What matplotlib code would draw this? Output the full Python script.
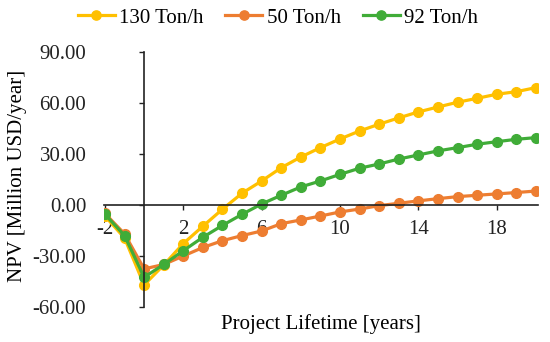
import matplotlib
matplotlib.use("Agg")
import matplotlib.pyplot as plt

years = list(range(-2, 21))

npv_130 = [-6.5, -19.4, -47.0, -35.3, -22.7, -12.5, -2.5, 6.9, 14.1, 21.9, 28.2, 33.7,
           38.8, 43.5, 47.5, 51.2, 54.7, 57.6, 60.4, 62.7, 65.1, 66.6, 69.0]
npv_50 = [-5.0, -17.0, -37.6, -35.0, -30.0, -25.0, -21.0, -18.0, -15.3, -11.0, -8.8, -6.5,
          -4.1, -2.4, -0.4, 1.0, 2.4, 3.7, 4.9, 5.7, 6.5, 7.3, 8.2]
npv_92 = [-5.5, -18.0, -42.5, -35.0, -26.9, -19.0, -12.0, -5.5, 0.6, 5.7, 10.6, 14.1,
          18.0, 21.6, 24.1, 27.0, 29.4, 31.8, 33.7, 35.7, 37.2, 38.6, 39.6]

series = [
    ("130 Ton/h", npv_130, "#FFC000"),
    ("50 Ton/h", npv_50, "#ED7D31"),
    ("92 Ton/h", npv_92, "#40AC38"),
]

plt.rcParams["font.family"] = ["Liberation Serif", "DejaVu Serif"]
plt.rcParams["axes.unicode_minus"] = False

fig = plt.figure(figsize=(5.5, 3.42), dpi=100)
ax = fig.add_axes([0.189, 0.1023, 0.789, 0.746])

for label, values, color in series:
    ax.plot(years, values, color=color, lw=2.3, marker="o", ms=7, label=label)

ax.set_xlim(-2.05, 20.1)
ax.set_ylim(-60, 90)
ax.spines["left"].set_position(("data", 0))
ax.spines["bottom"].set_position(("data", 0))
ax.spines["right"].set_visible(False)
ax.spines["top"].set_visible(False)
ax.set_xticks([-2, 2, 6, 10, 14, 18])
ax.set_yticks([-60, -30, 0, 30, 60, 90])
ax.set_yticklabels([f"{v:.2f}" for v in [-60, -30, 0, 30, 60, 90]])
ax.tick_params(labelsize=15, direction="out", length=3.6, width=1, colors="#222222")
ax.tick_params(axis="y", pad=38)
ax.tick_params(axis="x", pad=7)
for s in ["left", "bottom"]:
    ax.spines[s].set_color("#222222")
    ax.spines[s].set_linewidth(1.2)

fig.text(0.583, 0.052, "Project Lifetime [years]", ha="center", va="center", fontsize=15)
fig.text(0.032, 0.485, "NPV [Million USD/year]", ha="center", va="center",
         rotation=90, fontsize=15)

fig.legend(loc="center", bbox_to_anchor=(0.505, 0.948), ncol=3, frameon=False,
           fontsize=15, handlelength=1.78, columnspacing=1.05, handletextpad=0.2,
           markerscale=0.95)

fig.savefig("out.png", dpi=100)
